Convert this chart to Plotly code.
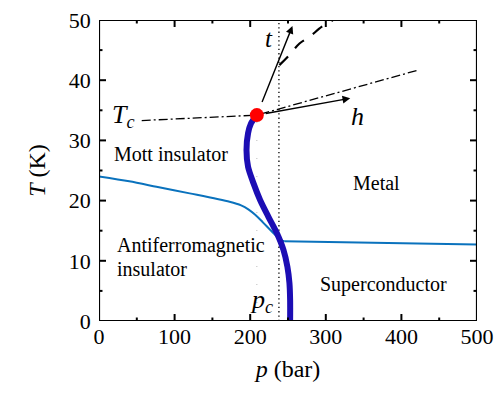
import plotly.graph_objects as go

# Data
thick_p = [208.8, 201.0, 197.2, 195.1, 197.2, 204.3, 213.1, 224.1, 235.2, 244.0, 249.2, 251.9, 252.8, 252.8]
thick_T = [34.2, 32.8, 31.2, 28.4, 25.6, 22.9, 20.1, 17.3, 14.6, 11.8, 9.0, 6.3, 3.5, 0.0]

af_p = [0, 40, 76, 120, 172.7, 188, 198, 207, 216, 226, 234, 240, 245]
af_T = [24.0, 23.2, 22.3, 21.2, 19.8, 19.2, 18.5, 17.6, 16.5, 15.2, 14.2, 13.5, 13.25]

af_hi_p = [245, 300, 400, 500]
af_hi_T = [13.25, 13.15, 12.95, 12.7]

dd_p = [56.5, 208.8, 422.7]
dd_T = [33.3, 34.2, 41.7]

dash_p = [238.6, 251.9, 265.2, 278.4, 294.8, 305.8, 312]
dash_T = [42.5, 44.2, 46.1, 47.2, 48.9, 49.7, 50.2]

pc = 238.0
tc_p, tc_T = 208.8, 34.2
t_tip = (255.9, 49.0)
h_tip = (332.3, 37.0)

x_ticks = [0, 100, 200, 300, 400, 500]
x_minor = [50, 150, 250, 350, 450]
y_ticks = [0, 10, 20, 30, 40, 50]
y_minor = [5, 15, 25, 35, 45]
y_ticktext = [str(v) + "\u2005\u200a" for v in y_ticks]

X_RANGE = [0, 500]
Y_RANGE = [0, 50]

# tick lengths expressed in axis units (about 7 px major, 3.5 px minor)
MAJ_X, MIN_X = 9.3, 4.6
MAJ_Y, MIN_Y = 1.16, 0.58

SERIF = "'Liberation Serif', 'DejaVu Serif', Times, serif"

fig = go.Figure()
fig.add_trace(go.Scatter(x=af_p, y=af_T, mode="lines", line=dict(color="#0a72bd", width=2, shape="spline", smoothing=0.8), hoverinfo="skip"))
fig.add_trace(go.Scatter(x=af_hi_p, y=af_hi_T, mode="lines", line=dict(color="#0a72bd", width=2), hoverinfo="skip"))
fig.add_trace(go.Scatter(x=[tc_p, tc_p], y=[0, tc_T], mode="lines", line=dict(color="#bbbbbb", width=1, dash="1px,17px"), hoverinfo="skip"))
fig.add_trace(go.Scatter(x=[pc, pc], y=[0, 50], mode="lines", line=dict(color="black", width=1.3, dash="1.3px,3px"), hoverinfo="skip"))
fig.add_trace(go.Scatter(x=thick_p, y=thick_T, mode="lines", line=dict(color="#1c0db4", width=6, shape="spline", smoothing=0.8), hoverinfo="skip"))
fig.add_trace(go.Scatter(x=dd_p, y=dd_T, mode="lines", line=dict(color="black", width=1.3, dash="9px,3px,2px,3px"), hoverinfo="skip"))
fig.add_trace(go.Scatter(x=dash_p, y=dash_T, mode="lines", line=dict(color="black", width=2.2, dash="12px,11px", shape="spline"), hoverinfo="skip"))
fig.add_trace(go.Scatter(x=[tc_p], y=[tc_T], mode="markers", marker=dict(color="#ff0000", size=14), hoverinfo="skip"))

# inside ticks on all four sides (built from the tick lists)
tx, ty = [], []
for vals, ln in ((x_ticks[1:-1], MAJ_Y), (x_minor, MIN_Y)):
    for v in vals:
        tx += [v, v, None, v, v, None]
        ty += [Y_RANGE[0], Y_RANGE[0] + ln, None, Y_RANGE[1], Y_RANGE[1] - ln, None]
for vals, ln in ((y_ticks[1:-1], MAJ_X), (y_minor, MIN_X)):
    for v in vals:
        tx += [X_RANGE[0], X_RANGE[0] + ln, None, X_RANGE[1], X_RANGE[1] - ln, None]
        ty += [v, v, None, v, v, None]
fig.add_trace(go.Scatter(x=tx, y=ty, mode="lines", line=dict(color="black", width=2),
                         connectgaps=False, hoverinfo="skip"))

# frame around the plot area
fig.add_trace(go.Scatter(x=[X_RANGE[0], X_RANGE[1], X_RANGE[1], X_RANGE[0], X_RANGE[0]],
                         y=[Y_RANGE[0], Y_RANGE[0], Y_RANGE[1], Y_RANGE[1], Y_RANGE[0]],
                         mode="lines", line=dict(color="black", width=2.2), cliponaxis=False,
                         hoverinfo="skip"))

for tip in (t_tip, h_tip):
    fig.add_annotation(x=tip[0], y=tip[1], ax=tc_p, ay=tc_T, xref="x", yref="y", axref="x", ayref="y",
                       text=" ", showarrow=True, arrowhead=2, arrowsize=1.1, arrowwidth=1.4, arrowcolor="black",
                       startstandoff=6)

def label(x, y, text, size, xanchor="center"):
    fig.add_annotation(x=x, y=y, xref="x", yref="y", text=text, showarrow=False,
                       font=dict(family=SERIF, size=size, color="black"), xanchor=xanchor, yanchor="middle")

label(33, 34.0, "<i>T</i><sub><i>c</i></sub>", 26)
label(225, 47.0, "<i>t</i>", 25)
label(342.5, 33.9, "<i>h</i>", 26)
label(214.5, 3.4, "<i>p</i><sub><i>c</i></sub>", 26)
label(95.3, 27.7, "Mott insulator", 20)
label(367.6, 23.0, "Metal", 20)
label(376.4, 6.1, "Superconductor", 20)
label(21.2, 12.6, "Antiferromagnetic", 20, xanchor="left")
label(21.2, 8.6, "insulator", 20, xanchor="left")

tickfont = dict(family=SERIF, size=22, color="black")

fig.update_layout(
    template="none", width=502, height=396, margin=dict(l=91, r=33, t=12, b=83),
    font=dict(family=SERIF, color="black"),
    plot_bgcolor="white", paper_bgcolor="white", showlegend=False,
    xaxis=dict(range=X_RANGE, tickmode="array", tickvals=x_ticks, ticks="", showline=False,
               showgrid=False, zeroline=False, tickfont=tickfont, ticklabeloverflow="allow",
               title=dict(text="<i>p</i> (bar)", font=dict(family=SERIF, size=24, color="black"), standoff=12)),
    yaxis=dict(range=Y_RANGE, tickmode="array", tickvals=y_ticks, ticktext=y_ticktext, ticks="",
               showline=False, showgrid=False, zeroline=False, tickfont=tickfont, ticklabeloverflow="allow",
               title=dict(text="<i>T</i> (K)", font=dict(family=SERIF, size=24, color="black"), standoff=16)),
)

fig.write_html("out.html")
